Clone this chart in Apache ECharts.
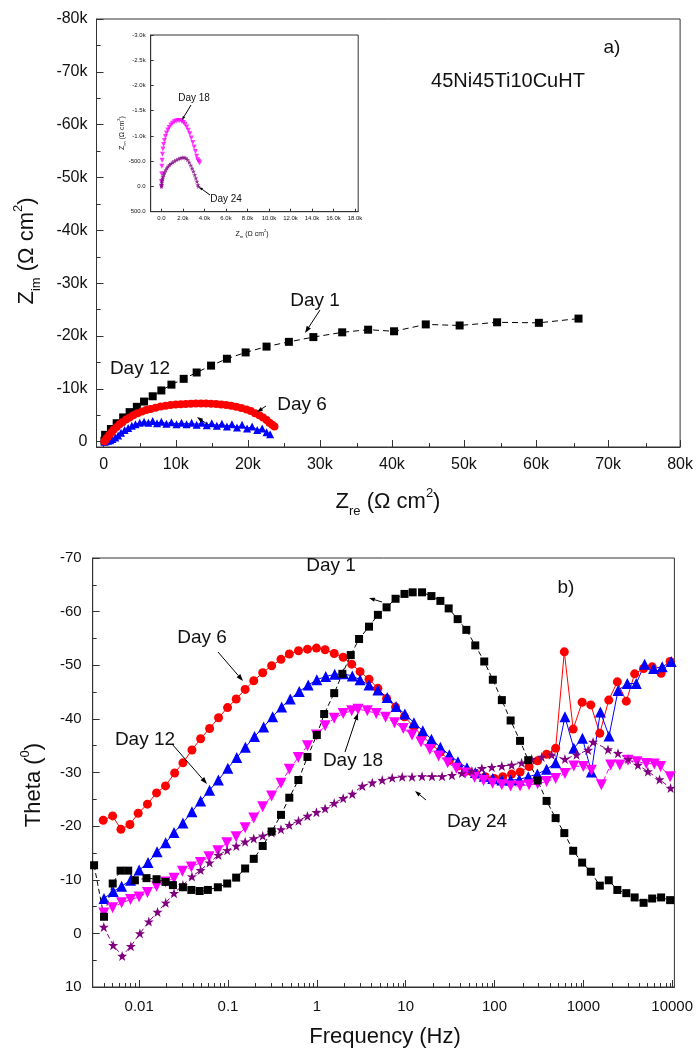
<!DOCTYPE html>
<html>
<head>
<meta charset="utf-8">
<script src="https://cdn.jsdelivr.net/npm/echarts@6/dist/echarts.min.js"></script>
<style>
html, body { margin: 0; padding: 0; background: #fff; }
#chart { width: 696px; height: 1049px; }
</style>
</head>
<body>
<div id="chart"></div>
<script>
// a) Nyquist, Z_re / Z_im in ohm cm2
var zreDay1 = [100, 200, 1000, 1800, 2700, 3600, 4600, 5600, 6800, 8000, 9400, 11100, 12900, 14900, 17100, 19700, 22600, 25700, 29100, 33100, 36700, 40300, 44700, 49400, 54600, 60400, 65900];
var zimDay1 = [-200, -1300, -2400, -3500, -4600, -5600, -6600, -7600, -8600, -9700, -10800, -11900, -13100, -14400, -15700, -16900, -18000, -18900, -19800, -20700, -21200, -20900, -22200, -22000, -22600, -22500, -23300];
var zreDay6 = [100, 300, 500, 800, 1100, 1400, 1800, 2200, 2600, 3100, 3600, 4100, 4700, 5300, 5900, 6500, 7200, 7900, 8600, 9300, 10000, 10700, 11400, 12100, 12800, 13500, 14200, 14900, 15600, 16300, 17000, 17700, 18400, 19100, 19800, 20400, 21000, 21600, 22100, 22600, 23000, 23400, 23700];
var zimDay6 = [-100, -400, -800, -1300, -1800, -2300, -2800, -3300, -3700, -4200, -4600, -5000, -5400, -5700, -6000, -6200, -6450, -6650, -6800, -6950, -7050, -7100, -7150, -7200, -7250, -7250, -7250, -7200, -7150, -7050, -6950, -6800, -6600, -6400, -6100, -5800, -5400, -5000, -4600, -4100, -3600, -3200, -2900];
var zreDay12 = [100, 300, 600, 900, 1200, 1600, 2000, 2400, 2900, 3400, 3900, 4400, 5000, 5600, 6200, 6800, 7400, 8000, 8700, 9400, 10100, 10800, 11500, 12200, 12900, 13600, 14300, 15000, 15700, 16400, 17100, 17800, 18500, 19200, 19900, 20600, 21300, 22000, 22600, 23100];
var zimDay12 = [0, -100, -200, -300, -500, -800, -1200, -1700, -2200, -2600, -3000, -3300, -3600, -3800, -3600, -3900, -3500, -3800, -3400, -3700, -3300, -3600, -3300, -3600, -3200, -3600, -3100, -3500, -3000, -3400, -2900, -3300, -2700, -3200, -2500, -2900, -2200, -2500, -1800, -1400];
// inset
var zreDay18 = [0, 0, 20, 40, 60, 90, 140, 200, 280, 370, 470, 590, 720, 870, 1030, 1200, 1370, 1540, 1710, 1880, 2040, 2200, 2350, 2500, 2640, 2780, 2910, 3040, 3160, 3270, 3370, 3460, 3550];
var zimDay18 = [0, -100, -250, -400, -520, -640, -740, -830, -910, -990, -1060, -1120, -1170, -1215, -1250, -1280, -1298, -1305, -1305, -1290, -1265, -1230, -1180, -1115, -1045, -960, -870, -780, -690, -600, -530, -500, -470];
var zreDay24 = [0, 10, 30, 60, 100, 150, 220, 300, 400, 510, 630, 760, 900, 1050, 1210, 1380, 1560, 1740, 1920, 2100, 2270, 2430, 2580, 2720, 2850, 2970, 3090, 3200, 3300, 3390, 3450];
var zimDay24 = [0, -40, -80, -120, -160, -195, -240, -280, -325, -365, -400, -430, -455, -480, -505, -525, -545, -560, -572, -575, -560, -530, -480, -420, -360, -300, -230, -165, -100, -35, 0];

// b) Bode phase, frequency in Hz, theta in degrees
var freqDay1 = [0.00311, 0.00402, 0.00504, 0.00618, 0.00753, 0.00895, 0.0121, 0.0157, 0.0198, 0.024, 0.0311, 0.0387, 0.048, 0.0594, 0.0769, 0.098, 0.1236, 0.156, 0.195, 0.246, 0.31, 0.395, 0.49, 0.62, 0.785, 1.0, 1.21, 1.57, 1.94, 2.41, 2.99, 3.87, 4.87, 6.1, 7.7, 9.7, 12.0, 15.3, 19.5, 24.6, 30.5, 38.5, 48.2, 60.8, 76.7, 95.8, 121, 152, 194, 240, 306, 386, 488, 611, 769, 970, 1214, 1533, 1933, 2415, 3048, 3784, 4772, 5961, 7516, 9490];
var thetaDay1 = [-12.7, -3.1, -9.3, -11.7, -11.7, -9.9, -10.3, -10.1, -9.6, -9.0, -8.6, -8.1, -7.9, -8.1, -8.6, -9.3, -10.4, -12.1, -13.9, -16.3, -19.0, -22.1, -25.3, -28.6, -32.9, -37.0, -40.9, -44.8, -48.4, -51.9, -54.9, -57.2, -59.4, -60.8, -62.4, -63.3, -63.6, -63.6, -62.9, -62.0, -60.6, -58.6, -56.6, -53.7, -50.7, -47.3, -43.5, -39.7, -35.9, -32.3, -28.5, -24.7, -21.5, -18.7, -15.4, -13.2, -11.5, -8.9, -9.9, -8.1, -7.5, -6.7, -5.7, -6.5, -6.7, -6.2];
var freqDay6 = [0.00394, 0.00503, 0.00624, 0.00787, 0.00975, 0.0124, 0.0157, 0.0198, 0.0251, 0.0311, 0.0393, 0.0492, 0.0621, 0.0783, 0.0989, 0.1237, 0.156, 0.195, 0.246, 0.31, 0.395, 0.49, 0.622, 0.785, 0.99, 1.24, 1.57, 1.98, 2.47, 3.07, 3.87, 4.87, 6.1, 7.7, 9.7, 12.4, 15.3, 19.5, 24.6, 31, 38.8, 49, 61.8, 78.7, 99.4, 124, 156, 194, 245, 306, 386, 488, 611, 769, 970, 1214, 1533, 1933, 2415, 3048, 3784, 4772, 5961, 7516, 9490];
var thetaDay6 = [-21.1, -21.9, -19.4, -20.3, -22.4, -24.1, -26.2, -27.5, -29.9, -31.8, -34.2, -36.3, -38.2, -40.2, -42.1, -43.7, -45.5, -47.1, -48.6, -49.9, -51.1, -52.1, -52.7, -53.0, -53.2, -52.9, -52.2, -51.5, -50.2, -48.8, -47.4, -45.7, -43.8, -42.2, -40.4, -38.5, -36.8, -35.3, -33.8, -32.3, -31.2, -30.3, -29.7, -29.2, -28.9, -29.2, -29.7, -30.1, -31.1, -32.2, -33.4, -34.5, -52.5, -38.1, -43.1, -42.6, -37.3, -43.5, -46.9, -43.3, -48.4, -49.4, -49.7, -48.5, -50.7];
var freqDay12 = [0.00402, 0.0051, 0.00635, 0.008, 0.01, 0.0126, 0.0159, 0.0199, 0.0247, 0.0311, 0.0393, 0.0492, 0.062, 0.078, 0.0995, 0.1256, 0.157, 0.199, 0.252, 0.318, 0.402, 0.502, 0.634, 0.8, 1.0, 1.26, 1.59, 2.0, 2.51, 3.07, 3.87, 4.87, 6.2, 7.8, 9.8, 12.4, 15.6, 19.5, 24.6, 31, 38.8, 49, 60.8, 76.7, 95.8, 121, 152, 190, 240, 304, 386, 488, 621, 782, 977, 1233, 1556, 1950, 2460, 3128, 3945, 4900, 6180, 7730, 9750];
var thetaDay12 = [-6.5, -7.8, -8.8, -9.9, -11.8, -13.2, -15.2, -16.9, -18.8, -20.6, -22.7, -24.7, -26.7, -28.6, -30.8, -32.8, -34.7, -36.7, -38.5, -40.4, -42.2, -43.7, -45.1, -46.3, -47.3, -47.9, -48.3, -48.4, -48.0, -47.3, -46.3, -45.4, -44.0, -42.3, -40.9, -39.3, -37.8, -36.2, -34.7, -33.3, -32.0, -30.9, -30.0, -29.3, -28.9, -28.6, -28.6, -28.7, -29.2, -29.7, -30.6, -31.8, -40.4, -34.5, -36.4, -30.1, -41.3, -36.8, -45.3, -46.6, -46.6, -50.2, -49.4, -49.7, -50.7];
var freqDay18 = [0.004, 0.00503, 0.00635, 0.008, 0.01, 0.0124, 0.0157, 0.0198, 0.0247, 0.0307, 0.0387, 0.0489, 0.061, 0.077, 0.097, 0.1236, 0.156, 0.195, 0.246, 0.31, 0.395, 0.49, 0.618, 0.785, 0.99, 1.24, 1.57, 1.98, 2.47, 2.91, 3.7, 4.67, 5.94, 7.5, 9.4, 11.8, 14.9, 18.7, 23.5, 29.7, 37.2, 46.9, 59.7, 75.3, 95, 121, 152, 194, 245, 306, 386, 488, 621, 782, 1000, 1233, 1596, 2033, 2570, 3185, 4018, 5109, 6300, 7413, 9490];
var thetaDay18 = [-3.8, -4.8, -5.7, -6.3, -6.8, -7.6, -8.8, -9.6, -10.3, -11.6, -12.4, -13.2, -14.3, -15.4, -16.9, -18.0, -19.7, -21.5, -23.6, -25.6, -28.0, -30.6, -32.8, -35.0, -37.0, -38.7, -40.1, -41.0, -41.5, -41.8, -41.5, -41.0, -40.3, -39.3, -38.2, -37.0, -35.7, -34.3, -33.1, -31.8, -30.8, -29.9, -29.1, -28.5, -28.0, -27.7, -27.5, -27.5, -27.7, -27.9, -28.3, -28.9, -29.8, -31.2, -31.1, -30.4, -27.7, -31.4, -31.4, -32.3, -32.0, -31.7, -31.6, -31.1, -29.2];
var freqDay24 = [0.004, 0.0051, 0.00644, 0.00807, 0.0102, 0.01285, 0.0161, 0.0199, 0.0247, 0.0311, 0.0393, 0.0492, 0.062, 0.078, 0.098, 0.124, 0.156, 0.195, 0.246, 0.31, 0.395, 0.49, 0.622, 0.785, 0.99, 1.24, 1.57, 1.98, 2.51, 3.25, 4.21, 5.45, 7.06, 9.14, 11.8, 15.3, 19.8, 25.7, 33.2, 43, 55.7, 72.1, 93.3, 121, 156, 202, 262, 340, 440, 621, 838, 1132, 1288, 1897, 2455, 3185, 4120, 5333, 7210, 9600];
var thetaDay24 = [-1.2, 2.2, 4.2, 2.4, 0, -2.2, -4.0, -5.7, -7.5, -9.0, -10.6, -11.8, -13.2, -14.6, -15.5, -16.3, -17.1, -17.7, -18.2, -18.8, -19.4, -20.2, -21.0, -21.9, -22.6, -23.3, -24.3, -25.2, -26.0, -27.5, -28.1, -28.6, -29.0, -29.2, -29.2, -29.3, -29.3, -29.3, -29.5, -29.9, -30.3, -30.8, -31.0, -31.2, -31.4, -31.8, -32.5, -32.9, -33.3, -32.5, -33.3, -34.2, -35.7, -34.3, -33.6, -32.5, -31.4, -30.2, -28.7, -27.1];

// tick labels
var zreTicks = [0, 10000, 20000, 30000, 40000, 50000, 60000, 70000, 80000];
var zimTicks = [-80000, -70000, -60000, -50000, -40000, -30000, -20000, -10000, 0];
var insetXTicks = [0, 2000, 4000, 6000, 8000, 10000, 12000, 14000, 16000, 18000];
var insetYTicks = [-3000, -2500, -2000, -1500, -1000, -500, 0, 500];
var freqTicks = [0.01, 0.1, 1, 10, 100, 1000, 10000];

var FONT = '"Liberation Sans", Arial, sans-serif';
var AX = '#333';
var TXT = '#111';
var STAR = 'path://M50,0 L61.8,35.1 L97.6,34.5 L68.8,56.9 L79.4,90.5 L50,70 L20.6,90.5 L31.2,56.9 L2.4,34.5 L38.2,35.1 Z';

var BOX_A = { left: 96.5, top: 19, width: 586, height: 428 };
var BOX_B = { left: 92.7, top: 558, width: 584, height: 429 };
var FREQ_MIN = Math.log10(0.003), FREQ_MAX = Math.log10(10600);

function pairs(xs, ys) {
    return xs.map(function (x, i) { return [x, ys[i]]; });
}
function logPairs(fs, ts) {
    return fs.map(function (f, i) { return [Math.log10(f), ts[i]]; });
}
function halfSteps(list) {
    var r = [];
    for (var i = 0; i < list.length - 1; i++) r.push((list[i] + list[i + 1]) / 2);
    return r;
}
// minor ticks of the log axis at 2..9 per decade
var freqMinor = [];
for (var n = -3; n <= 3; n++) {
    for (var k = 2; k <= 9; k++) {
        var f = k * Math.pow(10, n);
        if (f > 0.0031 && f < 10600) freqMinor.push(Math.log10(f));
    }
}

function kFmt(v) { return v === 0 ? '0' : (v / 1000) + 'k'; }

function label(x, y, text, size) {
    return { type: 'text', x: x, y: y, z: 100, style: { text: text, fill: TXT, fontSize: size, fontFamily: FONT, align: 'center', verticalAlign: 'middle' } };
}
function title(x, y, text, size, small, rot) {
    return {
        type: 'text', x: x, y: y, rotation: rot || 0, z: 100,
        style: {
            text: text, align: 'center', verticalAlign: 'middle',
            rich: {
                m: { fontSize: size, fontFamily: FONT, fill: TXT, lineHeight: Math.round(size * 1.4) },
                s: { fontSize: small, fontFamily: FONT, fill: TXT, lineHeight: small, verticalAlign: 'bottom' },
                p: { fontSize: small, fontFamily: FONT, fill: TXT, lineHeight: small, verticalAlign: 'top' }
            }
        }
    };
}
function arrow(x1, y1, x2, y2, len) {
    var a = Math.atan2(y2 - y1, x2 - x1), L = len || 7, w = L * 0.35;
    var bx = x2 - L * Math.cos(a), by = y2 - L * Math.sin(a);
    return [
        { type: 'line', z: 100, shape: { x1: x1, y1: y1, x2: bx, y2: by }, style: { stroke: '#000', lineWidth: 1 } },
        { type: 'polygon', z: 100, shape: { points: [[x2, y2], [bx + w * Math.sin(a), by - w * Math.cos(a)], [bx - w * Math.sin(a), by + w * Math.cos(a)]] }, style: { fill: '#000' } }
    ];
}

function axisBase(grid, min, max, pos, extra) {
    var o = {
        type: 'value', gridIndex: grid, min: min, max: max, position: pos, offset: 0,
        splitLine: { show: false },
        axisLine: { show: true, onZero: false, lineStyle: { color: AX, width: 1 } },
        axisTick: { show: true, inside: true, length: 7, lineStyle: { color: AX } },
        axisLabel: { color: TXT, fontFamily: FONT, fontSize: 16 }
    };
    for (var key in extra) o[key] = extra[key];
    return o;
}
// minor ticks live on their own overlay grid, so the axis keeps its side
function minorAxis(grid, min, max, pos, values, len, inverse) {
    return {
        type: 'value', gridIndex: grid, min: min, max: max, position: pos, offset: 0, inverse: !!inverse,
        splitLine: { show: false },
        axisLine: { show: false, onZero: false },
        axisTick: { show: !!values, inside: true, length: len, customValues: values || [], lineStyle: { color: AX } },
        axisLabel: { show: false }
    };
}
function box(b, extra) {
    var o = { left: b.left, top: b.top, width: b.width, height: b.height };
    for (var key in extra) o[key] = extra[key];
    return o;
}

var chart = echarts.init(document.getElementById('chart'));

var graphics = [
    // panel a
    label(612, 48, 'a)', 19),
    label(508, 81, '45Ni45Ti10CuHT', 20),
    label(315, 301, 'Day 1', 19),
    label(140, 369, 'Day 12', 19),
    label(302, 405, 'Day 6', 19),
    title(27, 251, '{m|Z}{s|im}{m| (Ω cm}{p|2}{m|)}', 22, 13, Math.PI / 2),
    title(388, 502, '{m|Z}{s|re}{m| (Ω cm}{p|2}{m|)}', 22, 13, 0),
    // inset
    label(194, 98, 'Day 18', 10),
    label(226, 199, 'Day 24', 10),
    title(122, 133, '{m|Z}{s|im}{m| (Ω cm}{p|2}{m|)}', 7, 4, Math.PI / 2),
    title(252, 234, '{m|Z}{s|re}{m| (Ω cm}{p|2}{m|)}', 7, 4, 0),
    // panel b
    label(331, 566, 'Day 1', 19),
    label(202, 638, 'Day 6', 19),
    label(145, 740, 'Day 12', 19),
    label(353, 761, 'Day 18', 19),
    label(477, 822, 'Day 24', 19),
    label(566, 588, 'b)', 19),
    title(34, 785, '{m|Theta (}{p|0}{m|)}', 22, 13, Math.PI / 2),
    title(385, 1037, '{m|Frequency (Hz)}', 22, 13, 0)
].concat(
    arrow(320, 310, 305, 333),
    arrow(266, 406, 257, 412, 6),
    arrow(207, 424, 197, 417, 6),
    arrow(191, 105, 182, 120, 4),
    arrow(210, 195, 199, 187, 4),
    arrow(382, 602, 369, 598, 6),
    arrow(218, 652, 243, 681),
    arrow(172, 744, 207, 784),
    arrow(345, 752, 358, 713),
    arrow(426, 800, 415, 791, 6)
);

var option = {
    animation: false,
    backgroundColor: '#fff',
    grid: [
        box(BOX_A, { show: true, borderColor: AX, borderWidth: 1, backgroundColor: 'transparent' }),
        { left: 150.7, top: 35, width: 207.5, height: 176.7, show: true, borderColor: AX, borderWidth: 1, backgroundColor: '#fff' },
        box(BOX_B, { show: true, borderColor: AX, borderWidth: 1, backgroundColor: 'transparent' }),
        box(BOX_A, { show: false }),
        box(BOX_B, { show: false })
    ],
    xAxis: [
        axisBase(0, -1000, 80000, 'bottom', {
            axisTick: { show: true, inside: true, length: 7, customValues: zreTicks, lineStyle: { color: AX } },
            axisLabel: { customValues: zreTicks, formatter: kFmt, color: TXT, fontFamily: FONT, fontSize: 16, margin: 10 }
        }),
        axisBase(1, -1000, 18300, 'bottom', {
            axisTick: { show: true, inside: true, length: 3, customValues: insetXTicks, lineStyle: { color: AX } },
            axisLabel: {
                customValues: insetXTicks, color: TXT, fontFamily: FONT, fontSize: 6, margin: 4,
                formatter: function (v) { return v === 0 ? '0.0' : (v / 1000).toFixed(1) + 'k'; }
            }
        }),
        axisBase(2, FREQ_MIN, FREQ_MAX, 'bottom', {
            axisTick: { show: true, inside: true, length: 7, customValues: freqTicks.map(Math.log10), lineStyle: { color: AX } },
            axisLabel: {
                customValues: freqTicks.map(Math.log10), color: TXT, fontFamily: FONT, fontSize: 15, margin: 12,
                formatter: function (v) {
                    var f = Math.pow(10, v);
                    return v < 0 ? String(+f.toPrecision(1)) : String(Math.round(f));
                }
            }
        }),
        minorAxis(3, -1000, 80000, 'bottom', halfSteps(zreTicks), 4),
        minorAxis(4, FREQ_MIN, FREQ_MAX, 'bottom', freqMinor, 4)
    ],
    yAxis: [
        axisBase(0, -80000, 1000, 'left', {
            inverse: true,
            axisTick: { show: true, inside: true, length: 7, customValues: zimTicks, lineStyle: { color: AX } },
            axisLabel: { customValues: zimTicks, formatter: kFmt, color: TXT, fontFamily: FONT, fontSize: 16, margin: 9 }
        }),
        axisBase(1, -3000, 500, 'left', {
            inverse: true,
            axisTick: { show: true, inside: true, length: 3, customValues: insetYTicks, lineStyle: { color: AX } },
            axisLabel: {
                customValues: insetYTicks, color: TXT, fontFamily: FONT, fontSize: 6, margin: 5,
                formatter: function (v) { return Math.abs(v) >= 1000 ? (v / 1000).toFixed(1) + 'k' : v.toFixed(1); }
            }
        }),
        axisBase(2, -70, 10, 'left', {
            inverse: true, interval: 10,
            minorTick: { show: true, splitNumber: 2, length: 4, lineStyle: { color: AX } },
            axisLabel: { color: TXT, fontFamily: FONT, fontSize: 15, margin: 11 }
        }),
        minorAxis(3, -80000, 1000, 'left', halfSteps(zimTicks), 4, true),
        minorAxis(4, -70, 10, 'left', null, 4, true)
    ],
    series: [
        // panel a
        { type: 'line', name: 'Day 1', xAxisIndex: 0, yAxisIndex: 0, data: pairs(zreDay1, zimDay1),
          symbol: 'rect', symbolSize: 8, itemStyle: { color: '#000' }, lineStyle: { color: '#000', width: 1, type: [6, 4] } },
        { type: 'line', name: 'Day 12', xAxisIndex: 0, yAxisIndex: 0, data: pairs(zreDay12, zimDay12),
          symbol: 'triangle', symbolSize: 8, itemStyle: { color: '#0000ff' }, lineStyle: { color: '#0000ff', width: 1 } },
        { type: 'line', name: 'Day 6', xAxisIndex: 0, yAxisIndex: 0, data: pairs(zreDay6, zimDay6),
          symbol: 'circle', symbolSize: 8, itemStyle: { color: '#ff0000' }, lineStyle: { color: '#ff0000', width: 1 } },
        // inset
        { type: 'scatter', name: 'Day 18 inset', xAxisIndex: 1, yAxisIndex: 1, data: pairs(zreDay18, zimDay18),
          symbol: 'triangle', symbolRotate: 180, symbolSize: 5, itemStyle: { color: '#ff00ff' } },
        { type: 'scatter', name: 'Day 24 inset', xAxisIndex: 1, yAxisIndex: 1, data: pairs(zreDay24, zimDay24),
          symbol: STAR, symbolSize: 5, itemStyle: { color: '#800080' } },
        // panel b
        { type: 'line', name: 'Day 6 b', xAxisIndex: 2, yAxisIndex: 2, data: logPairs(freqDay6, thetaDay6),
          symbol: 'circle', symbolSize: 9, itemStyle: { color: '#ff0000' }, lineStyle: { color: '#ff0000', width: 1 } },
        { type: 'line', name: 'Day 12 b', xAxisIndex: 2, yAxisIndex: 2, data: logPairs(freqDay12, thetaDay12),
          symbol: 'triangle', symbolSize: 11, itemStyle: { color: '#0000ff' }, lineStyle: { color: '#0000ff', width: 1 } },
        { type: 'line', name: 'Day 18 b', xAxisIndex: 2, yAxisIndex: 2, data: logPairs(freqDay18, thetaDay18),
          symbol: 'triangle', symbolRotate: 180, symbolSize: 11, itemStyle: { color: '#ff00ff' }, lineStyle: { color: '#ff00ff', width: 1, type: [5, 3] } },
        { type: 'line', name: 'Day 24 b', xAxisIndex: 2, yAxisIndex: 2, data: logPairs(freqDay24, thetaDay24),
          symbol: STAR, symbolSize: 10, itemStyle: { color: '#800080' }, lineStyle: { color: '#800080', width: 1, type: [5, 3] } },
        { type: 'line', name: 'Day 1 b', xAxisIndex: 2, yAxisIndex: 2, data: logPairs(freqDay1, thetaDay1),
          symbol: 'rect', symbolSize: 8, itemStyle: { color: '#000' }, lineStyle: { color: '#000', width: 1, type: [5, 3] } }
    ],
    graphic: graphics
};
chart.setOption(option);
</script>
</body>
</html>
